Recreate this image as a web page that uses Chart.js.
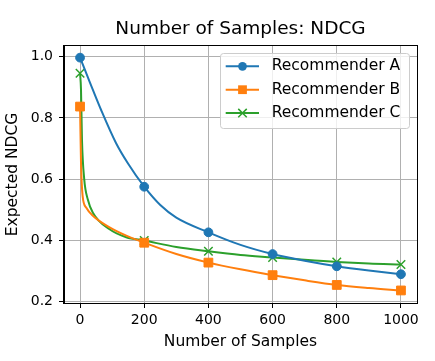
<!DOCTYPE html>
<html>
<head>
<meta charset="utf-8">
<script src="https://cdn.jsdelivr.net/npm/chart.js@4.4.1/dist/chart.umd.min.js"></script>
<style>
    html, body { margin: 0; padding: 0; background: #fff; }
    canvas { display: block; }
</style>
</head>
<body>
<canvas id="ndcgChart" width="435" height="361"></canvas>
<script>
// --- DATA ---
const seriesNames = ['Recommender A', 'Recommender B', 'Recommender C'];

const samplesA = [0, 30, 66, 112, 150, 200, 250, 300, 400, 500, 600, 700, 800, 900, 1000];
const ndcgA    = [0.997, 0.918, 0.825, 0.718, 0.650, 0.575, 0.515, 0.474, 0.426, 0.385, 0.355, 0.333, 0.315, 0.301, 0.289];

const samplesB = [0, 3, 8, 19, 40, 92, 144, 200, 300, 400, 500, 600, 700, 800, 900, 1000];
const ndcgB    = [0.837, 0.653, 0.545, 0.507, 0.480, 0.442, 0.415, 0.392, 0.355, 0.327, 0.305, 0.286, 0.269, 0.254, 0.244, 0.236];

const samplesC = [0, 3, 6, 13, 24, 40, 92, 144, 200, 300, 400, 500, 600, 700, 800, 900, 1000];
const ndcgC    = [0.946, 0.892, 0.729, 0.600, 0.534, 0.490, 0.436, 0.410, 0.399, 0.378, 0.364, 0.352, 0.344, 0.336, 0.329, 0.324, 0.321];

const markerSamples = [0, 200, 400, 600, 800, 1000];
const xTicks = [0, 200, 400, 600, 800, 1000];
const yTicks = [0.2, 0.4, 0.6, 0.8, 1.0];

// --- STYLE ---
const FONT = "'DejaVu Sans', sans-serif";
const colors = ['#1f77b4', '#ff7f0e', '#2ca02c'];
const markers = [
    { style: 'circle', radius: 4.4 },
    { style: 'rect', radius: 6.2 },
    { style: 'crossRot', radius: 6 }
];

const toPoints = (xs, ys) => xs.map((x, i) => ({ x: x, y: ys[i] }));
const allSeries = [toPoints(samplesA, ndcgA), toPoints(samplesB, ndcgB), toPoints(samplesC, ndcgC)];

const datasets = allSeries.map((pts, i) => ({
    label: seriesNames[i],
    data: pts,
    borderColor: colors[i],
    backgroundColor: colors[i],
    borderWidth: 2,
    cubicInterpolationMode: 'monotone',
    pointStyle: markers[i].style,
    pointRadius: ctx => markerSamples.includes(ctx.raw.x) ? markers[i].radius : 0,
    pointHoverRadius: 0,
    pointBackgroundColor: colors[i],
    pointBorderColor: colors[i],
    pointBorderWidth: i === 2 ? 1.5 : 1
}));

// small marker painter for the legend handles
function paintMarker(ctx, style, r, x, y, color) {
    ctx.save();
    ctx.fillStyle = color;
    ctx.strokeStyle = color;
    ctx.lineWidth = 1.5;
    ctx.beginPath();
    if (style === 'circle') {
        ctx.arc(x, y, r, 0, Math.PI * 2);
        ctx.fill();
    } else if (style === 'rect') {
        const s = r * Math.SQRT1_2;
        ctx.fillRect(x - s, y - s, 2 * s, 2 * s);
    } else {
        const s = r * Math.SQRT1_2;
        ctx.moveTo(x - s, y - s); ctx.lineTo(x + s, y + s);
        ctx.moveTo(x - s, y + s); ctx.lineTo(x + s, y - s);
        ctx.stroke();
    }
    ctx.restore();
}

// frame on all four sides + matplotlib-style legend in the upper right
const framePlugin = {
    id: 'frameAndLegend',
    afterDatasetsDraw(chart) {
        const { ctx, chartArea: a } = chart;
        ctx.save();
        ctx.strokeStyle = '#000';
        ctx.lineWidth = 1;
        ctx.strokeRect(Math.round(a.left) - 0.5, Math.round(a.top) - 0.5,
            Math.round(a.right - a.left) + 1, Math.round(a.bottom - a.top) + 1);

        // legend box
        const bx = a.right - 197, by = a.top + 7, bw = 189, bh = 75;
        ctx.fillStyle = 'rgba(255,255,255,0.8)';
        ctx.strokeStyle = '#cccccc';
        ctx.beginPath();
        if (ctx.roundRect) ctx.roundRect(bx + 0.5, by + 0.5, bw, bh, 3);
        else ctx.rect(bx + 0.5, by + 0.5, bw, bh);
        ctx.fill();
        ctx.stroke();

        ctx.font = '15.5px ' + FONT;
        ctx.textBaseline = 'middle';
        ctx.textAlign = 'left';
        chart.data.datasets.forEach((ds, i) => {
            const ly = by + 13.3 + i * 23.4;
            ctx.strokeStyle = colors[i];
            ctx.lineWidth = 2;
            ctx.beginPath();
            ctx.moveTo(bx + 5.7, ly);
            ctx.lineTo(bx + 39, ly);
            ctx.stroke();
            paintMarker(ctx, markers[i].style, markers[i].radius, bx + 22.5, ly, colors[i]);
            ctx.fillStyle = '#000';
            ctx.fillText(ds.label, bx + 51.7, ly);
        });
        ctx.restore();
    }
};

new Chart(document.getElementById('ndcgChart'), {
    type: 'line',
    data: { datasets: datasets },
    options: {
        responsive: false,
        animation: false,
        devicePixelRatio: 1,
        layout: { padding: { left: 0, right: 18, top: 0, bottom: 0 } },
        plugins: {
            legend: { display: false },
            tooltip: { enabled: false },
            title: {
                display: true,
                text: 'Number of Samples: NDCG',
                fullSize: false,
                color: '#000',
                font: { family: FONT, size: 18.5, weight: 'normal' },
                padding: { top: 18, bottom: 5.8 }
            }
        },
        scales: {
            x: {
                type: 'linear',
                min: -50,
                max: 1050,
                afterBuildTicks: s => { s.ticks = xTicks.map(v => ({ value: v })); },
                afterFit: s => { s.height = 58; },
                ticks: {
                    color: '#000',
                    font: { family: FONT, size: 14 },
                    padding: 3.6,
                    maxRotation: 0,
                    callback: v => String(v)
                },
                grid: { color: '#b0b0b0', lineWidth: 1, tickColor: '#000', tickLength: 5, tickWidth: 1 },
                border: { display: true, color: '#000', width: 1 },
                title: {
                    display: true,
                    text: 'Number of Samples',
                    color: '#000',
                    font: { family: FONT, size: 15.5 },
                    padding: { top: 0, bottom: 10.2 }
                }
            },
            y: {
                type: 'linear',
                min: 0.195,
                max: 1.035,
                afterBuildTicks: s => { s.ticks = yTicks.map(v => ({ value: v })); },
                afterFit: s => { s.width = 64; },
                ticks: {
                    color: '#000',
                    font: { family: FONT, size: 14 },
                    padding: 6,
                    callback: v => v.toFixed(1)
                },
                grid: { color: '#b0b0b0', lineWidth: 1, tickColor: '#000', tickLength: 5, tickWidth: 1 },
                border: { display: true, color: '#000', width: 1 },
                title: {
                    display: true,
                    text: 'Expected NDCG',
                    color: '#000',
                    font: { family: FONT, size: 15.5 },
                    padding: { top: 3.5, bottom: 0 }
                }
            }
        }
    },
    plugins: [framePlugin]
});
</script>
</body>
</html>
